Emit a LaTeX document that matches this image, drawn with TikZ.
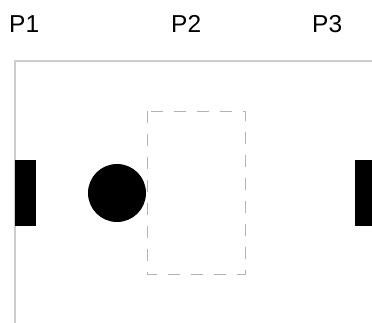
\documentclass[tikz,border=0pt]{standalone}
\usepackage{fontspec}
\setmainfont{Liberation Sans}
\begin{document}
\begin{tikzpicture}[x=1pt,y=-1pt,line join=round,font=\fontsize{24.5}{26}\selectfont]
			\useasboundingbox (0,0) rectangle (372,323);
			
			% Labels
			\node[anchor=base west,inner sep=0pt] (p1) at (9,33) {P1};
			\node[anchor=base west,inner sep=0pt] (p2) at (171,33) {P2};
			\node[anchor=base west,inner sep=0pt] (p3) at (312,33) {P3};
			
			% Frame
			\draw[black!20,line width=1.2pt] (372,61)--(15,61)--(15,323);
			
			% Dashed area
			\draw[black!30,line width=0.9pt,dash pattern=on 12pt off 11pt] (147,111) rectangle (245,274);
			
			% Walls and ball
			\fill (15,160) rectangle (36,226);
			\fill (355,160) rectangle (376,226);
			\fill (117,193) circle (29);
		\end{tikzpicture}
\end{document}
